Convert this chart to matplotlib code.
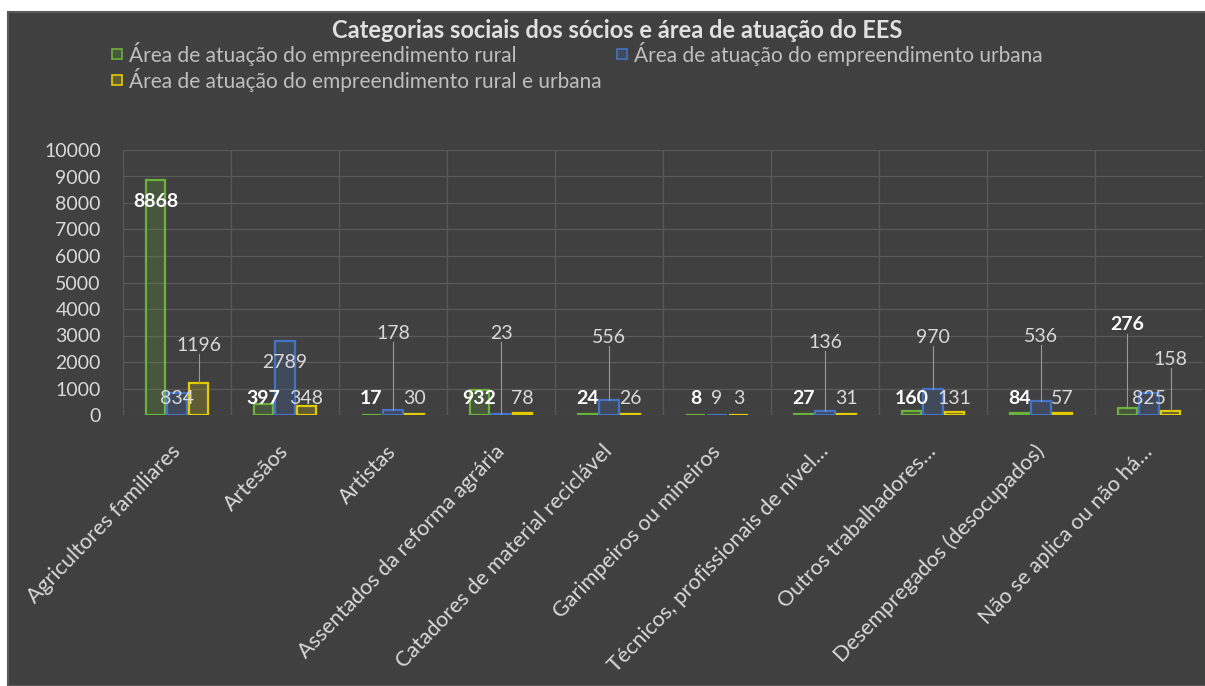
import matplotlib.pyplot as plt
from matplotlib.patches import Rectangle
import numpy as np

plt.rcParams['font.family'] = ['Lato', 'DejaVu Sans']

categorias = ["Agricultores familiares", "Artesãos", "Artistas",
              "Assentados da reforma agrária", "Catadores de material reciclável",
              "Garimpeiros ou mineiros", "Técnicos, profissionais de nível…",
              "Outros trabalhadores…", "Desempregados (desocupados)",
              "Não se aplica ou não há…"]
rural = [8868, 397, 17, 932, 24, 8, 27, 160, 84, 276]
urbana = [834, 2789, 178, 23, 556, 9, 136, 970, 536, 825]
rural_urbana = [1196, 348, 30, 78, 26, 3, 31, 131, 57, 158]
series_nomes = ["Área de atuação do empreendimento rural",
                "Área de atuação do empreendimento urbana",
                "Área de atuação do empreendimento rural e urbana"]

# onde ficam os rótulos (alguns foram arrastados pra cima no Excel)
lbl_rural = [8075, 640, 640, 640, 640, 640, 640, 640, 640, 3400]
lbl_urbana = [640, 2000, 3090, 3090, 2940, 640, 2750, 2940, 2980, 640]
lbl_mista = [2640, 640, 640, 640, 640, 640, 640, 640, 640, 2110]

cores = ['#6BB23A', '#4472C4', '#E2CC00']
BG = '#404040'

W, H = 1205, 686
fig = plt.figure(figsize=(W / 100, H / 100), dpi=100, facecolor=BG)
# faixas brancas em cima e na esquerda (recorte da captura)
fig.patches.append(Rectangle((0, 1 - 12 / H), 1, 12 / H, transform=fig.transFigure,
                             facecolor='white', edgecolor='none', zorder=-5))
fig.patches.append(Rectangle((0, 0), 8 / W, 1, transform=fig.transFigure,
                             facecolor='white', edgecolor='none', zorder=-5))
fig.patches.append(Rectangle((8 / W, 0), 1, (H - 12) / H, transform=fig.transFigure,
                             facecolor='none', edgecolor='#5A5A5A', lw=1.5, zorder=-4))

ax = fig.add_axes([123 / W, 1 - 415 / H, 1080 / W, 265 / H])
ax.set_facecolor(BG)

x = np.arange(len(categorias))
w = 0.2
dados = [rural, urbana, rural_urbana]
lbls = [lbl_rural, lbl_urbana, lbl_mista]
for k, (vals, ly, cor) in enumerate(zip(dados, lbls, cores)):
    pos = x + (k - 1) * w
    ax.bar(pos, vals, w * 0.9, facecolor=cor + '33', edgecolor=cor, lw=1.6, zorder=3)
    for px, v, y in zip(pos, vals, ly):
        if k == 0:
            ax.text(px, y, str(v), ha='center', va='center', fontsize=14,
                    color='white', fontweight='bold', zorder=5)
        else:
            ax.text(px, y, str(v), ha='center', va='center', fontsize=14,
                    color='#D9D9D9', zorder=5)
        if y > v + 800:  # linha de chamada
            ax.plot([px, px], [y - 330, v], color='#9A9A9A', lw=0.8, zorder=4)

ax.set_xlim(-0.5, len(categorias) - 0.5)
ax.set_ylim(0, 10000)
ax.set_yticks(range(0, 10001, 1000))
ax.set_xticks(x)
ax.set_xticklabels(categorias, rotation=46, ha='right', va='center',
                   rotation_mode='anchor', fontsize=15.5, color='#D9D9D9')
ax.tick_params(axis='x', length=0, pad=24)
ax.tick_params(axis='y', length=0, pad=16, labelsize=14, labelcolor='#D9D9D9')
ax.grid(axis='y', color='#595959', lw=0.9, zorder=0)
for b in np.arange(-0.5, len(categorias) - 0.5, 1):
    ax.axvline(b, color='#595959', lw=0.9, zorder=0)
for s in ax.spines.values():
    s.set_visible(False)

fig.text(617 / W, 1 - 30 / H, "Categorias sociais dos sócios e área de atuação do EES",
         ha='center', va='center', fontsize=17, fontweight='bold', color='#E0E0E0')

# legenda feita na mão pra ficar igual ao Excel
leg_pos = [(117, 54), (622, 54), (117, 80)]
for (lx, ly), nome, cor in zip(leg_pos, series_nomes, cores):
    fig.patches.append(Rectangle(((lx - 5) / W, 1 - (ly + 5) / H), 10 / W, 10 / H,
                                 transform=fig.transFigure, facecolor=cor + '33',
                                 edgecolor=cor, lw=1.2))
    fig.text((lx + 12) / W, 1 - ly / H, nome, ha='left', va='center',
             fontsize=15, color='#BFBFBF')

fig.savefig('out.png', dpi=100, facecolor=BG)
